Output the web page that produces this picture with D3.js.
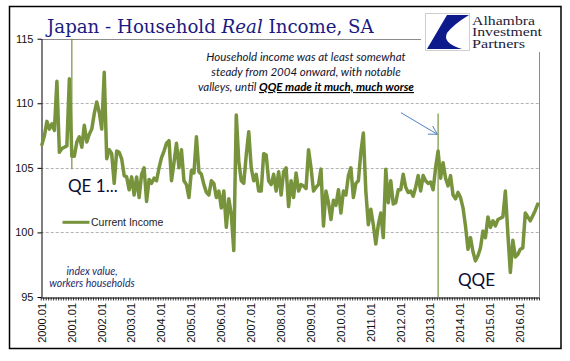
<!DOCTYPE html>
<html>
<head>
<meta charset="utf-8">
<script src="https://cdn.jsdelivr.net/npm/d3@7"></script>
<style>
body { margin: 0; background: #fff; }
svg { display: block; }
</style>
</head>
<body>
<div id="chart"></div>
<script>
// Japan household real income (workers households), index, SA - monthly from 2000.01
var startYear = 2000;
var currentIncome = [
  106.8, 107.5, 108.6, 108.0, 108.4, 107.9, 111.7, 106.2, 106.5, 106.6, 106.7, 111.9, // 2000
  105.9, 105.9, 107.0, 107.4, 106.6, 108.3, 107.0, 107.6, 108.0, 109.2, 110.1, 109.3, // 2001
  108.0, 112.4, 105.7, 106.4, 106.1, 103.8, 106.3, 106.2, 105.7, 104.4, 104.3, 103.3, // 2002
  104.3, 102.9, 104.3, 102.7, 104.5, 105.0, 102.4, 104.1, 103.8, 104.2, 104.0, 105.0, // 2003
  105.8, 106.3, 106.9, 107.1, 104.0, 105.4, 106.9, 105.0, 106.4, 104.0, 103.7, 102.7, // 2004
  104.8, 104.6, 107.4, 104.7, 104.5, 103.7, 103.1, 102.9, 104.0, 103.8, 102.7, 103.2, // 2005
  101.9, 103.2, 100.4, 102.6, 101.4,  98.6, 109.1, 105.5, 104.0, 103.8, 106.0, 107.8, // 2006
  105.0, 104.0, 104.5, 103.2, 103.2, 106.1, 106.0, 104.0, 103.7, 104.5, 103.2, 104.7, // 2007
  102.9, 104.7, 105.0, 102.0, 104.0, 102.7, 104.6, 103.2, 103.7, 103.6, 103.4, 106.4, // 2008
  105.0, 103.2, 103.5, 103.7, 104.9, 100.5, 103.2, 102.3, 101.0, 102.5, 102.1, 103.3, // 2009
  101.5, 103.2, 102.9, 104.4, 105.0, 102.7, 103.8, 104.0, 106.2, 107.7, 103.2, 100.6, // 2010
  101.8, 100.6,  99.1, 100.6, 101.5,  99.6, 104.9, 102.3, 104.0, 102.2, 102.3, 103.3, // 2011
  103.3, 104.5, 103.5, 103.1, 103.2, 102.8, 103.5, 104.4, 103.2, 104.4, 104.0, 103.8, // 2012
  103.9, 103.3, 105.0, 106.3, 104.2, 105.4, 104.2, 103.6, 104.4, 102.9, 102.6, 103.1, // 2013
  102.7, 101.9, 100.5,  98.7,  99.6,  98.5,  97.8,  98.2,  98.8, 100.1,  99.6, 101.2, // 2014
  100.4, 100.9, 100.5, 101.0, 101.1, 101.2, 103.2,  99.9,  96.9,  99.4,  98.1,  98.3, // 2015
   98.7,  98.8, 101.5, 101.2, 100.9, 101.3, 101.7, 102.2                              // 2016
];
var categories = currentIncome.map(function(d, i) {
  var m = i % 12 + 1;
  return (startYear + Math.floor(i / 12)) + '.' + (m < 10 ? '0' : '') + m;
});
var xTickLabels = ['2000.01','2001.01','2002.01','2003.01','2004.01','2005.01','2006.01','2007.01',
                   '2008.01','2009.01','2010.01','2011.01','2012.01','2013.01','2014.01','2015.01','2016.01'];
var yTicks = [95, 100, 105, 110, 115];
var gridTicks = [100, 105, 110];
// vertical event markers: category, value at top, value at bottom
var eventLines = [
  { cat: '2001.01', top: 115, bottom: 104.9 },
  { cat: '2013.04', top: 109.2, bottom: 95 }
];
var noteLines = ['Household income was at least somewhat', 'steady from 2004 onward, with notable'];
var logoLines = ['Alhambra', 'Investment', 'Partners'];

var W = 570, H = 361;
var olive = '#77933C';

var svg = d3.select('#chart').append('svg')
    .attr('width', W)
    .attr('height', H);

svg.append('rect').attr('width', W).attr('height', H).attr('fill', '#fff');

// outer frame
svg.append('rect')
    .attr('x', 9.5).attr('y', 6.5)
    .attr('width', 551.5).attr('height', 342)
    .attr('fill', 'none')
    .attr('stroke', '#000')
    .attr('stroke-width', 1.5);

var plotL = 40.7, plotR = 539, plotT = 38.7, plotB = 297;

var x = d3.scaleBand().domain(categories).range([plotL, plotR]).padding(0);
var xi = d3.scaleLinear().domain([0, categories.length]).range([plotL, plotR]);
var y = d3.scaleLinear().domain([95, 115]).range([plotB, plotT]);

function cx(c) { return x(c) + x.bandwidth() / 2; }

// gridlines
svg.append('g').selectAll('line')
    .data(gridTicks)
    .enter().append('line')
    .attr('x1', plotL).attr('x2', plotR)
    .attr('y1', function(d) { return Math.round(y(d)) + 0.5; })
    .attr('y2', function(d) { return Math.round(y(d)) + 0.5; })
    .attr('stroke', '#b3b3b3')
    .attr('stroke-dasharray', '3,2');

// plot area top + right border
svg.append('path')
    .attr('d', 'M' + plotL + ',' + (Math.round(plotT) + 0.5) + 'H' + (Math.round(plotR) + 0.5) + 'V' + plotB)
    .attr('fill', 'none')
    .attr('stroke', '#8c8c8c');

// y axis
var yAxis = d3.axisLeft(y).tickValues(yTicks).tickSize(4).tickSizeOuter(0).tickPadding(4);
var gy = svg.append('g')
    .attr('transform', 'translate(' + (Math.round(plotL) + 0.5) + ',0)')
    .call(yAxis);
gy.select('.domain').attr('stroke', '#000');
gy.selectAll('.tick line').attr('stroke', '#000');
gy.selectAll('.tick text')
    .attr('font-family', '"Liberation Sans Narrow", "Liberation Sans", Arial, sans-serif')
    .attr('font-size', 11)
    .attr('fill', '#111');

// x axis: a tick on every category boundary
var xAxis = d3.axisBottom(xi).tickValues(d3.range(0, categories.length + 1)).tickSize(3).tickSizeOuter(0).tickFormat('');
var gx = svg.append('g')
    .attr('transform', 'translate(0,' + (Math.round(plotB) + 0.5) + ')')
    .call(xAxis);
gx.select('.domain').attr('stroke', '#000');
gx.selectAll('.tick line').attr('stroke', '#000').attr('stroke-width', 0.8);

svg.append('g').selectAll('text')
    .data(xTickLabels)
    .enter().append('text')
    .attr('transform', function(d) { return 'translate(' + cx(d) + ',303) rotate(-90)'; })
    .attr('text-anchor', 'end')
    .attr('dy', '0.35em')
    .attr('font-family', '"Liberation Sans Narrow", "Liberation Sans", Arial, sans-serif')
    .attr('font-size', 11)
    .attr('fill', '#111')
    .text(function(d) { return d; });

// event lines
svg.append('g').selectAll('line')
    .data(eventLines)
    .enter().append('line')
    .attr('x1', function(d) { return cx(d.cat); })
    .attr('x2', function(d) { return cx(d.cat); })
    .attr('y1', function(d) { return y(d.top); })
    .attr('y2', function(d) { return y(d.bottom); })
    .attr('stroke', olive)
    .attr('stroke-width', 1.2);

// income line
var line = d3.line()
    .x(function(d, i) { return cx(categories[i]); })
    .y(function(d) { return y(d); });

svg.append('path')
    .datum(currentIncome)
    .attr('d', line)
    .attr('fill', 'none')
    .attr('stroke', olive)
    .attr('stroke-width', 3.5)
    .attr('stroke-linejoin', 'round')
    .attr('stroke-linecap', 'round');

// title
var title = svg.append('text')
    .attr('x', 47).attr('y', 33)
    .attr('font-family', '"DejaVu Serif", Georgia, serif')
    .attr('font-size', 18.2)
    .attr('fill', '#1a1a80');
title.append('tspan').text('Japan - Household ');
title.append('tspan').attr('font-style', 'italic').text('Real');
title.append('tspan').text(' Income, SA');

// logo block (covers the plot border)
var logo = svg.append('g');
logo.append('rect')
    .attr('x', 421).attr('y', 10).attr('width', 125).attr('height', 42)
    .attr('fill', '#fff');
logo.append('rect')
    .attr('x', 425.5).attr('y', 13.5).attr('width', 44).attr('height', 37)
    .attr('fill', '#fff')
    .attr('stroke', '#cfcfcf');
logo.append('path')
    .attr('d', 'M427,49 L447,15 L469,15 Q454,24 447,33 Q442,43 462,49 Z')
    .attr('fill', '#0c1a8c');
var logoWidths = [63, 70, 53];
logo.selectAll('text.logo')
    .data(logoLines)
    .enter().append('text')
    .attr('class', 'logo')
    .attr('x', 472)
    .attr('y', function(d, i) { return 25 + i * 11.3; })
    .attr('font-family', '"Liberation Serif", "Times New Roman", serif')
    .attr('font-size', 13)
    .attr('textLength', function(d, i) { return logoWidths[i]; })
    .attr('lengthAdjust', 'spacingAndGlyphs')
    .attr('fill', '#22223a')
    .text(function(d) { return d; });

// annotation note
var noteFont = 'Lato, "Open Sans", sans-serif';
svg.append('g').selectAll('text')
    .data(noteLines)
    .enter().append('text')
    .attr('x', 306)
    .attr('y', function(d, i) { return 61 + i * 15; })
    .attr('text-anchor', 'middle')
    .attr('font-family', noteFont)
    .attr('font-style', 'italic')
    .attr('font-size', 11.5)
    .attr('fill', '#14142e')
    .text(function(d) { return d; });
var note3 = svg.append('text')
    .attr('x', 306).attr('y', 91)
    .attr('text-anchor', 'middle')
    .attr('font-family', noteFont)
    .attr('font-style', 'italic')
    .attr('font-size', 11.5)
    .attr('fill', '#14142e');
note3.append('tspan').text('valleys, until ');
note3.append('tspan')
    .attr('font-weight', 'bold')
    .attr('fill', '#000')
    .style('text-decoration', 'underline')
    .text('QQE made it much, much worse');

// arrow to QQE line
var arrowFrom = [144.1, 109.27], arrowTo = [158.7, 107.6];
var ax1 = xi(arrowFrom[0] + 0.5), ay1 = y(arrowFrom[1]);
var ax2 = xi(arrowTo[0] + 0.5), ay2 = y(arrowTo[1]);
var ang = Math.atan2(ay1 - ay2, ax1 - ax2);
var headLen = 9.5, spread = 0.52;
svg.append('path')
    .attr('d', 'M' + ax1 + ',' + ay1 + 'L' + ax2 + ',' + ay2 +
        'M' + (ax2 + headLen * Math.cos(ang - spread)) + ',' + (ay2 + headLen * Math.sin(ang - spread)) +
        'L' + ax2 + ',' + ay2 +
        'L' + (ax2 + headLen * Math.cos(ang + spread)) + ',' + (ay2 + headLen * Math.sin(ang + spread)))
    .attr('fill', 'none')
    .attr('stroke', '#4f81bd')
    .attr('stroke-width', 1);

// big labels
svg.append('text')
    .attr('x', 68).attr('y', 192)
    .attr('font-family', noteFont)
    .attr('font-size', 17)
    .attr('fill', '#0d0d33')
    .text('QE 1...');
svg.append('text')
    .attr('x', 458).attr('y', 286)
    .attr('font-family', noteFont)
    .attr('font-size', 17)
    .attr('fill', '#0d0d33')
    .text('QQE');

// legend
svg.append('line')
    .attr('x1', 62.5).attr('x2', 89.5)
    .attr('y1', 222.3).attr('y2', 222.3)
    .attr('stroke', olive)
    .attr('stroke-width', 3);
svg.append('text')
    .attr('x', 91).attr('y', 226)
    .attr('font-family', '"Liberation Sans", Arial, sans-serif')
    .attr('font-size', 10.5)
    .attr('fill', '#222')
    .text('Current Income');

// unit note
svg.append('g').selectAll('text')
    .data(['index value,', 'workers households'])
    .enter().append('text')
    .attr('x', 92)
    .attr('y', function(d, i) { return 275 + i * 12; })
    .attr('text-anchor', 'middle')
    .attr('font-family', noteFont)
    .attr('font-style', 'italic')
    .attr('font-size', 10.5)
    .attr('fill', '#1c2a6b')
    .text(function(d) { return d; });
</script>
</body>
</html>
